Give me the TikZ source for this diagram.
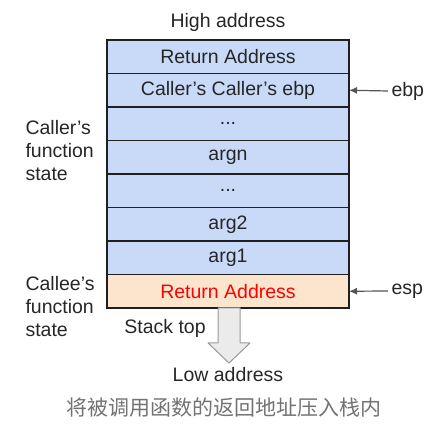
\documentclass[tikz,border=0pt]{standalone}
\usepackage{fontspec}
\setmainfont{Liberation Sans}
\newfontfamily\cjk{Noto Sans CJK SC}
\usetikzlibrary{positioning, arrows.meta}

\definecolor{cellblue}{HTML}{C9DAF8}
\definecolor{cellpeach}{HTML}{FCE5CD}
\definecolor{framegray}{HTML}{1F1F1F}
\definecolor{ptrgray}{HTML}{555555}

\begin{document}
\begin{tikzpicture}[
        x=1pt, y=-1pt,
        every node/.style={font=\fontsize{19.5}{23}\selectfont, text=black!85},
        cell/.style={draw=framegray, line width=1.3pt, fill=cellblue,
          minimum width=242pt, minimum height=33.5pt, inner sep=0pt, outer sep=0pt},
        ptr/.style={draw=ptrgray, line width=1.2pt, -{Latex[length=8pt, width=7pt]}},
        side/.style={anchor=west, align=left}
      ]
      \useasboundingbox (0,0) rectangle (442,430);
      \node (high) at (228,22) {High address};
      \node[cell] (ret) at (228,56.75) {Return Address};
      \node[cell, below=0pt of ret] (cc) {Caller’s Caller’s ebp};
      \node[cell, below=0pt of cc] (dots1) {...};
      \node[cell, below=0pt of dots1] (argn) {argn};
      \node[cell, below=0pt of argn] (dots2) {...};
      \node[cell, below=0pt of dots2] (arg2) {arg2};
      \node[cell, below=0pt of arg2] (arg1) {arg1};
      \node[cell, below=0pt of arg1, fill=cellpeach, text=red] (newret) {Return Address};
      % labels on the left
      \node[side] (caller) at (22,151) {Caller’s\\function\\state};
      \node[side] (callee) at (22,307) {Callee’s\\function\\state};
      % pointers
      \node[anchor=west] (ebp) at (388,91) {ebp};
      \node[anchor=west] (esp) at (388,291) {esp};
      \draw[ptr] (ebp.west) -- (cc.east);
      \draw[ptr] (esp.west) -- (newret.east);
      % growth direction
      \draw[draw=black!40, fill=black!8, line width=1pt, line join=round]
        (218,308) -- (240,308) -- (240,343) -- (250,343) -- (229,363)
        -- (208,343) -- (218,343) -- cycle;
      \node (top) at (165,328) {Stack top};
      \node (low) at (228,375) {Low address};
      \node[font=\cjk\fontsize{21}{25}\selectfont, text=black!55] (caption) at (224,408)
        {将被调用函数的返回地址压入栈内};
\end{tikzpicture}
\end{document}
